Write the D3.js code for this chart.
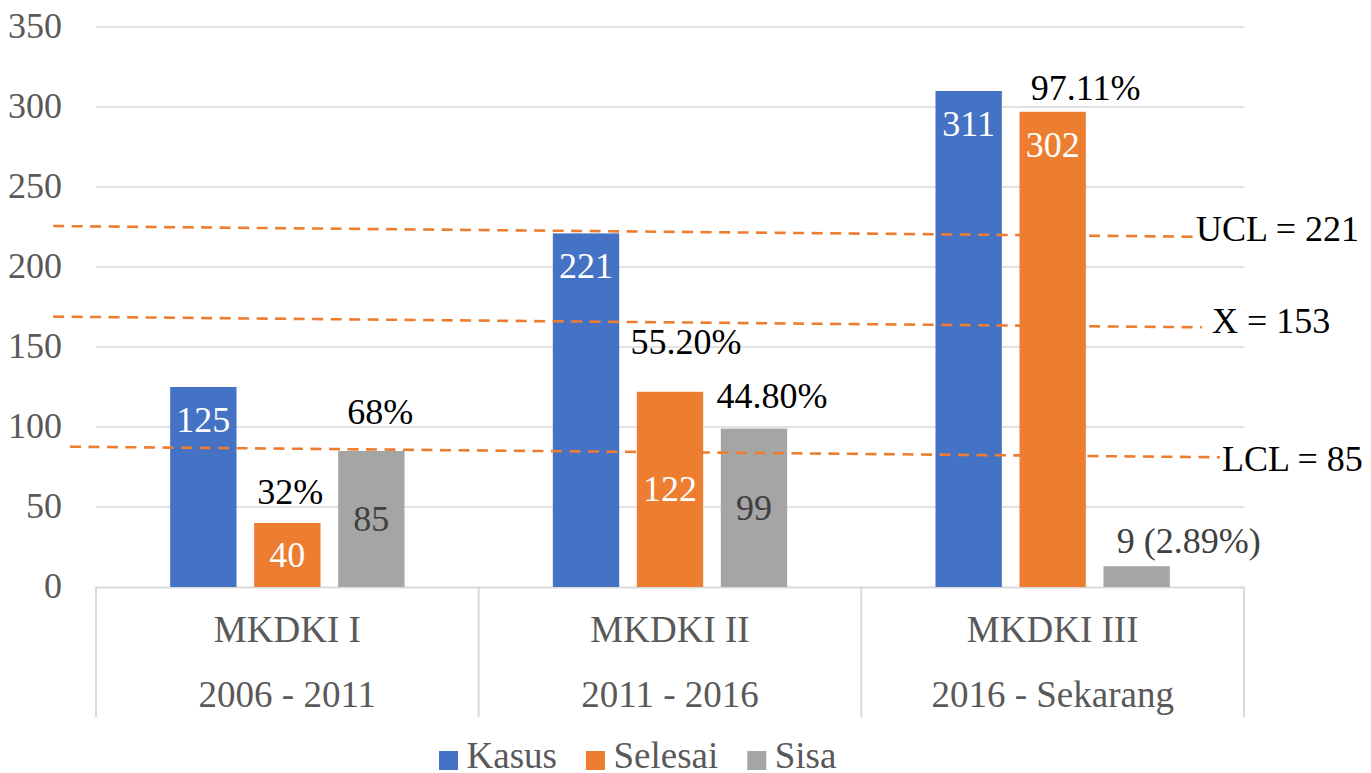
<!DOCTYPE html>
<html>
<head>
<meta charset="utf-8">
<script src="https://cdn.jsdelivr.net/npm/d3@7"></script>
<style>
  body { margin: 0; background: #fff; }
  svg { display: block; font-family: "Liberation Serif", "Times New Roman", serif; }
</style>
</head>
<body>
<svg id="chart"></svg>
<script>
// data
const categories = ["MKDKI I", "MKDKI II", "MKDKI III"];
const periods = ["2006 - 2011", "2011 - 2016", "2016 - Sekarang"];
const seriesNames = ["Kasus", "Selesai", "Sisa"];
const kasus = [125, 221, 310];
const selesai = [40, 122, 297];
const sisa = [85, 99, 13];
const kasusLabels = ["125", "221", "311"];
const selesaiLabels = ["40", "122", "302"];
const sisaLabels = ["85", "99", "9 (2.89%)"];
const selesaiPct = ["32%", "55.20%", "97.11%"];
const sisaPct = ["68%", "44.80%", ""];
const yTicks = [0, 50, 100, 150, 200, 250, 300, 350];
// control lines (hand drawn, slightly tilted): value at left end, value at right end
const limitNames = ["UCL = 221", "X = 153", "LCL = 85"];
const limitStart = [225.6, 169, 87.7];
const limitEnd = [218.9, 162.3, 81.1];

// layout / style
const W = 1371, H = 773;
const colors = ["#4472C4", "#ED7D31", "#A5A5A5"];
const labelColors = ["#fff", "#fff", "#404040"];
const labelPlace = [["end", "end", "end"], ["mid", "mid", "end"], ["mid", "mid", "out"]];
const labelNudge = [[0, 0], [0, 0], [52, -13]];
const selesaiPctNudge = [[3, -19], [16, -38], [33, -12]];
const sisaPctNudge = [[9, -27], [18, -21], [0, 0]];
const limitFrom = [-0.112, -0.112, -0.068];   // in category units
const limitTo = [2.885, 2.89, 2.937];
const limitTextNudge = [[-4, 4], [10, 6], [2, 14]];

const svg = d3.select("#chart").attr("width", W).attr("height", H);

const x0 = d3.scaleBand().domain(categories).range([96, 1244]).padding(0);
const x1 = d3.scaleBand().domain(seriesNames).range([0, x0.bandwidth()])
    .paddingInner(0.21).paddingOuter(0.883);
const xc = d3.scaleLinear().domain([0, 3]).range([96, 1244]);
const y = d3.scaleLinear().domain([0, 350]).range([587, 27]);

// gridlines
svg.append("g").selectAll("line")
    .data(yTicks.filter(d => d > 0))
    .enter().append("line")
    .attr("x1", 96).attr("x2", 1244)
    .attr("y1", d => y(d)).attr("y2", d => y(d))
    .attr("stroke", "#d9d9d9").attr("stroke-width", 1.5);

// y tick labels
svg.append("g").selectAll("text")
    .data(yTicks)
    .enter().append("text")
    .attr("x", 62).attr("y", d => y(d) + 11)
    .attr("text-anchor", "end")
    .attr("font-size", "36px").attr("fill", "#595959")
    .text(d => d);

// category axis with separators
const axis = svg.append("g");
axis.append("line")
    .attr("x1", 96).attr("x2", 1244).attr("y1", y(0) + 0.5).attr("y2", y(0) + 0.5)
    .attr("stroke", "#d9d9d9").attr("stroke-width", 2);
axis.selectAll("line.sep")
    .data(d3.range(categories.length + 1))
    .enter().append("line").attr("class", "sep")
    .attr("x1", i => xc(i)).attr("x2", i => xc(i))
    .attr("y1", y(0)).attr("y2", 717)
    .attr("stroke", "#d9d9d9").attr("stroke-width", 2);
axis.selectAll("text.cat")
    .data(categories)
    .enter().append("text").attr("class", "cat")
    .attr("x", d => x0(d) + x0.bandwidth() / 2).attr("y", 642)
    .attr("text-anchor", "middle").attr("font-size", "37px").attr("fill", "#595959")
    .text(d => d);
axis.selectAll("text.per")
    .data(periods)
    .enter().append("text").attr("class", "per")
    .attr("x", (d, i) => x0(categories[i]) + x0.bandwidth() / 2).attr("y", 707)
    .attr("text-anchor", "middle").attr("font-size", "37px").attr("fill", "#595959")
    .text(d => d);

// bars
const series = [kasus, selesai, sisa];
const seriesLabels = [kasusLabels, selesaiLabels, sisaLabels];
const rows = [];
series.forEach((vals, s) => vals.forEach((v, c) => rows.push({ s, c, v, label: seriesLabels[s][c] })));

const barX = d => x0(categories[d.c]) + x1(seriesNames[d.s]);

svg.append("g").selectAll("rect")
    .data(rows)
    .enter().append("rect")
    .attr("x", barX)
    .attr("y", d => y(d.v))
    .attr("width", x1.bandwidth())
    .attr("height", d => y(0) - y(d.v))
    .attr("fill", d => colors[d.s]);

// control lines
const limits = limitNames.map((n, i) => ({ n, a: limitStart[i], b: limitEnd[i], f: limitFrom[i], t: limitTo[i], i }));
const lg = svg.append("g");
lg.selectAll("line")
    .data(limits)
    .enter().append("line")
    .attr("x1", d => xc(d.f)).attr("y1", d => y(d.a))
    .attr("x2", d => xc(d.t)).attr("y2", d => y(d.b))
    .attr("stroke", "#ED7D31").attr("stroke-width", 2.6)
    .attr("stroke-dasharray", "11,7.5");
lg.selectAll("text")
    .data(limits)
    .enter().append("text")
    .attr("x", d => xc(d.t) + limitTextNudge[d.i][0])
    .attr("y", d => y(d.b) + limitTextNudge[d.i][1])
    .attr("font-size", "36px").attr("fill", "#000")
    .text(d => d.n);

// value labels
svg.append("g").selectAll("text")
    .data(rows)
    .enter().append("text")
    .attr("x", d => barX(d) + x1.bandwidth() / 2 + (labelPlace[d.s][d.c] === "out" ? labelNudge[d.s][0] : 0))
    .attr("y", d => {
        const p = labelPlace[d.s][d.c];
        if (p === "end") return y(d.v) + 45;
        if (p === "mid") return (y(d.v) + y(0)) / 2 + 12;
        return y(d.v) + labelNudge[d.s][1];
    })
    .attr("text-anchor", "middle")
    .attr("font-size", "36px")
    .attr("fill", d => labelColors[d.s])
    .text(d => d.label);

// percentage labels
const pctRows = [];
selesaiPct.forEach((t, c) => pctRows.push({ s: 1, c, v: selesai[c], t, n: selesaiPctNudge[c] }));
sisaPct.forEach((t, c) => pctRows.push({ s: 2, c, v: sisa[c], t, n: sisaPctNudge[c] }));
svg.append("g").selectAll("text")
    .data(pctRows.filter(d => d.t))
    .enter().append("text")
    .attr("x", d => barX(d) + x1.bandwidth() / 2 + d.n[0])
    .attr("y", d => y(d.v) + d.n[1])
    .attr("text-anchor", "middle")
    .attr("font-size", "36px").attr("fill", "#000")
    .text(d => d.t);

// legend
const legend = svg.append("g");
let lx = 439;
seriesNames.forEach((name, i) => {
    legend.append("rect")
        .attr("x", lx).attr("y", 751).attr("width", 19).attr("height", 19)
        .attr("fill", colors[i]);
    const t = legend.append("text")
        .attr("x", lx + 27.5).attr("y", 768)
        .attr("font-size", "37px").attr("fill", "#595959")
        .text(name);
    lx += 27.5 + t.node().getComputedTextLength() + 29;
});
</script>
</body>
</html>
